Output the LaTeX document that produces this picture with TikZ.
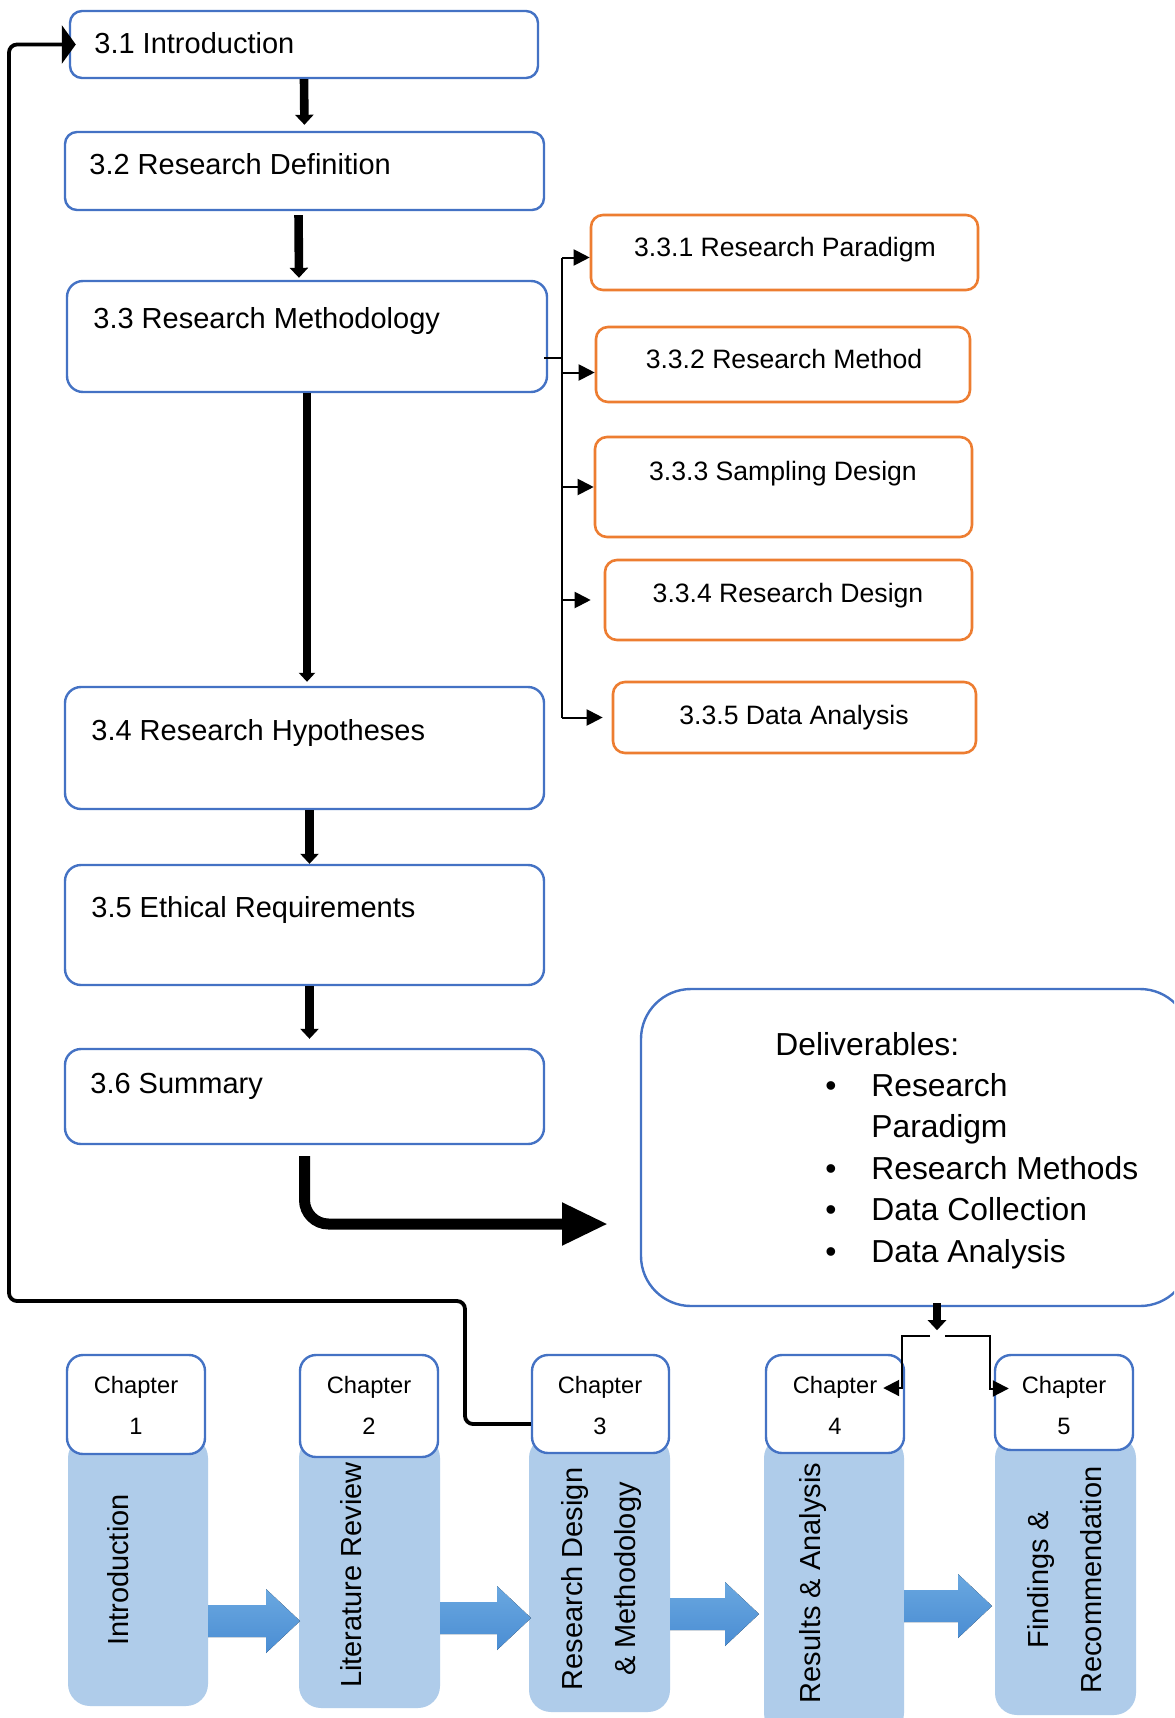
\documentclass[tikz,border=0pt]{standalone}
\usepackage{fontspec}
\setmainfont{Liberation Sans}
\usetikzlibrary{arrows.meta,fit,calc}
\definecolor{bbor}{HTML}{4472C4}
\definecolor{obor}{HTML}{ED7D31}
\definecolor{colfill}{HTML}{AFCCEA}
\definecolor{arrtop}{HTML}{6AA8E0}
\definecolor{arrbot}{HTML}{4A8DD3}
\newcommand\myfs[2]{\fontsize{#1}{#2}\selectfont}
\tikzset{
  bluebox/.style={draw=bbor, line width=1.2pt, rounded corners=6pt, fill=white, inner sep=0pt},
  orbox/.style={draw=obor, line width=1.3pt, rounded corners=6pt, fill=white, inner sep=0pt},
  chbox/.style={draw=bbor, line width=1.2pt, rounded corners=8pt, fill=white, inner sep=0pt},
  chtxt/.style={font=\myfs{11.85}{14}, inner sep=0pt, anchor=base},
  colbox/.style={fill=colfill, rounded corners=11pt, inner sep=0pt},
  btxt/.style={font=\myfs{14.5}{17}, inner sep=0pt, anchor=base west},
  otxt/.style={font=\myfs{13.3}{16}, inner sep=0pt, anchor=base},
  ctxt/.style={font=\myfs{14.5}{26.5}, inner sep=0pt, rotate=90, align=center},
  dtxt/.style={font=\myfs{15.9}{20.7}, inner sep=0pt, anchor=base west},
  flowarrow/.style={line width=4.3pt, -{Triangle[width=9pt,length=5pt]}},
  longarrow/.style={line width=3.6pt, -{Triangle[width=8pt,length=4.5pt]}},
  bigarrow/.style={line width=5.5pt, -{Triangle[width=20pt,length=23pt]}},
  brline/.style={line width=1pt},
  brarrow/.style={line width=1pt, -{Triangle[width=8pt,length=8pt]}},
  fbline/.style={line width=1.9pt, rounded corners=4pt, -{Triangle[width=19pt,length=7pt]}},
  barrow/.style={top color=arrtop, bottom color=arrbot},
}
\newcommand\barr[4]{\fill[barrow] (#1,#4-16) -- (#2,#4-16) -- (#2,#4-32) -- (#3,#4) -- (#2,#4+32) -- (#2,#4+16) -- (#1,#4+16) -- cycle;}
\begin{document}
\begin{tikzpicture}[x=0.5pt,y=-0.5pt]
\useasboundingbox (0,0) rectangle (1174,1718);
\clip (0,0) rectangle (1174,1718);
\fill[white] (0,0) rectangle (1174,1718);

% deliverables
\node[bluebox, rounded corners=25pt, fit={(641,989) (1190,1306)}] (deliv) {};
\node[dtxt] (dtext) at (775,1055) {\begin{tabular}[t]{@{}p{25pt}@{}p{23pt}@{}l@{}}
\multicolumn{3}{@{}l@{}}{Deliverables:}\\
& \textbullet & Research\\
& & Paradigm\\
& \textbullet & Research Methods\\
& \textbullet & Data Collection\\
& \textbullet & Data Analysis
\end{tabular}};

% main blue boxes
\node[bluebox, fit={(70,11) (538,78)}] (b31) {};
\node[bluebox, fit={(65,132) (544,210)}] (b32) {};
\node[bluebox, rounded corners=8pt, fit={(67,281) (547,392)}] (b33) {};
\node[bluebox, rounded corners=8pt, fit={(65,687) (544,809)}] (b34) {};
\node[bluebox, rounded corners=8pt, fit={(65,865) (544,985)}] (b35) {};
\node[bluebox, rounded corners=8pt, fit={(65,1049) (544,1144)}] (b36) {};
\node[btxt] (t31) at (94,54) {3.1 Introduction};
\node[btxt] (t32) at (89,174) {3.2 Research Definition};
\node[btxt] (t33) at (93,328) {3.3 Research Methodology};
\node[btxt] (t34) at (91,740) {3.4 Research Hypotheses};
\node[btxt] (t35) at (91,917) {3.5 Ethical Requirements};
\node[btxt] (t36) at (90,1093) {3.6 Summary};

% orange boxes
\node[orbox, fit={(591,215) (978,290)}] (b331) {};
\node[orbox, fit={(596,327) (970,402)}] (b332) {};
\node[orbox, fit={(595,437) (972,537)}] (b333) {};
\node[orbox, fit={(605,560) (972,640)}] (b334) {};
\node[orbox, fit={(613,682) (976,753)}] (b335) {};
\node[otxt] (t331) at (785,256) {3.3.1 Research Paradigm};
\node[otxt] (t332) at (784,368) {3.3.2 Research Method};
\node[otxt] (t333) at (783,480) {3.3.3 Sampling Design};
\node[otxt] (t334) at (788,602) {3.3.4 Research Design};
\node[otxt] (t335) at (794,724) {3.3.5 Data Analysis};

% flow arrows
\draw[flowarrow, shorten >=3pt] (b31.south) -- (b32.north);
\draw[flowarrow, shorten <=2pt, shorten >=1pt] ($(b32.south)+(-6,0)$) -- ($(b33.north)+(-8,0)$);
\draw[longarrow, shorten >=2pt] (b33.south) -- (b33.south |- b34.north);
\draw[flowarrow] ($(b34.south)+(5,0)$) -- ($(b35.north)+(5,0)$);
\draw[flowarrow, shorten >=4.5pt] ($(b35.south)+(5,0)$) -- ($(b36.north)+(5,0)$);
\coordinate (bigend) at (608,1224);
\draw[bigarrow, rounded corners=12pt] ($(b36.south)+(0,11)$) |- (bigend);

% bracket to orange boxes
\draw[brline] ($(b33.east)+(-4,21)$) -- ++(18,0) coordinate (bj);
\draw[brline] ($(bj |- b331.west)+(0,5)$) -- (bj |- b335.west);
\draw[brarrow] ($(bj |- b331.west)+(0,5)$) -- ($(b331.west)+(0,5)$);
\draw[brarrow] ($(bj |- b332.west)+(0,8)$) -- ($(b332.west)+(0,8)$);
\draw[brarrow] (bj |- b333.west) -- (b333.west);
\draw[brarrow, shorten >=6.5pt] (bj |- b334.west) -- (b334.west);
\draw[brarrow, shorten >=4.5pt] (bj |- b335.west) -- (b335.west);

% columns
\node[colbox, fit={(68,1436) (208,1706)}] (col1) {};
\node[colbox, fit={(299,1436) (440,1708)}] (col2) {};
\node[colbox, fit={(529,1436) (670,1712)}] (col3) {};
\node[colbox, fit={(764,1436) (904,1735)}] (col4) {};
\node[colbox, fit={(995,1436) (1136,1715)}] (col5) {};
\node[ctxt] (ct1) at (118,1570) {Introduction};
\node[ctxt] (ct2) at (351,1575) {Literature Review};
\node[ctxt] (ct3) at (601,1579) {Research Design\\\& Methodology};
\node[ctxt] (ct4) at (813,1583) {Results \& Analysis};
\node[ctxt] (ct5) at (1065,1580) {Findings \&\\Recommendation};

\barr{208}{266}{300}{1621}
\barr{440}{497}{531}{1618}
\barr{670}{725}{759}{1614}
\barr{904}{958}{992}{1606}

% chapter boxes
\node[chbox, fit={(67,1355) (205,1454)}] (ch1) {};
\node[chbox, fit={(300,1355) (438,1457)}] (ch2) {};
\node[chbox, fit={(532,1355) (669,1453)}] (ch3) {};
\node[chbox, fit={(766,1355) (904,1453)}] (ch4) {};
\node[chbox, fit={(995,1355) (1133,1450)}] (ch5) {};
\node[chtxt] (cha1) at (136,1393) {Chapter};
\node[chtxt] (chn1) at (136,1434) {1};
\node[chtxt] (cha2) at (369,1393) {Chapter};
\node[chtxt] (chn2) at (369,1434) {2};
\node[chtxt] (cha3) at (600,1393) {Chapter};
\node[chtxt] (chn3) at (600,1434) {3};
\node[chtxt] (cha4) at (835,1393) {Chapter};
\node[chtxt] (chn4) at (835,1434) {4};
\node[chtxt] (cha5) at (1064,1393) {Chapter};
\node[chtxt] (chn5) at (1064,1434) {5};

% feedback line
\draw[fbline, shorten >=-3.5pt] ($(ch3.west)+(0,20)$) -| (465,1301) -- (9,1301) |- (b31.west);

% deliverables to chapters
\draw[flowarrow] ($(deliv.south)+(21.5,-4)$) -- ++(0,27);
\draw[brarrow] (930,1336) -| ($(ch4.east)+(-3,-16)$) -- ($(ch4.east)+(-22,-16)$);
\draw[brarrow] (945,1336) -| ($(ch5.west)+(-4,-14)$) -- ($(ch5.west)+(15,-14)$);
\end{tikzpicture}
\end{document}
